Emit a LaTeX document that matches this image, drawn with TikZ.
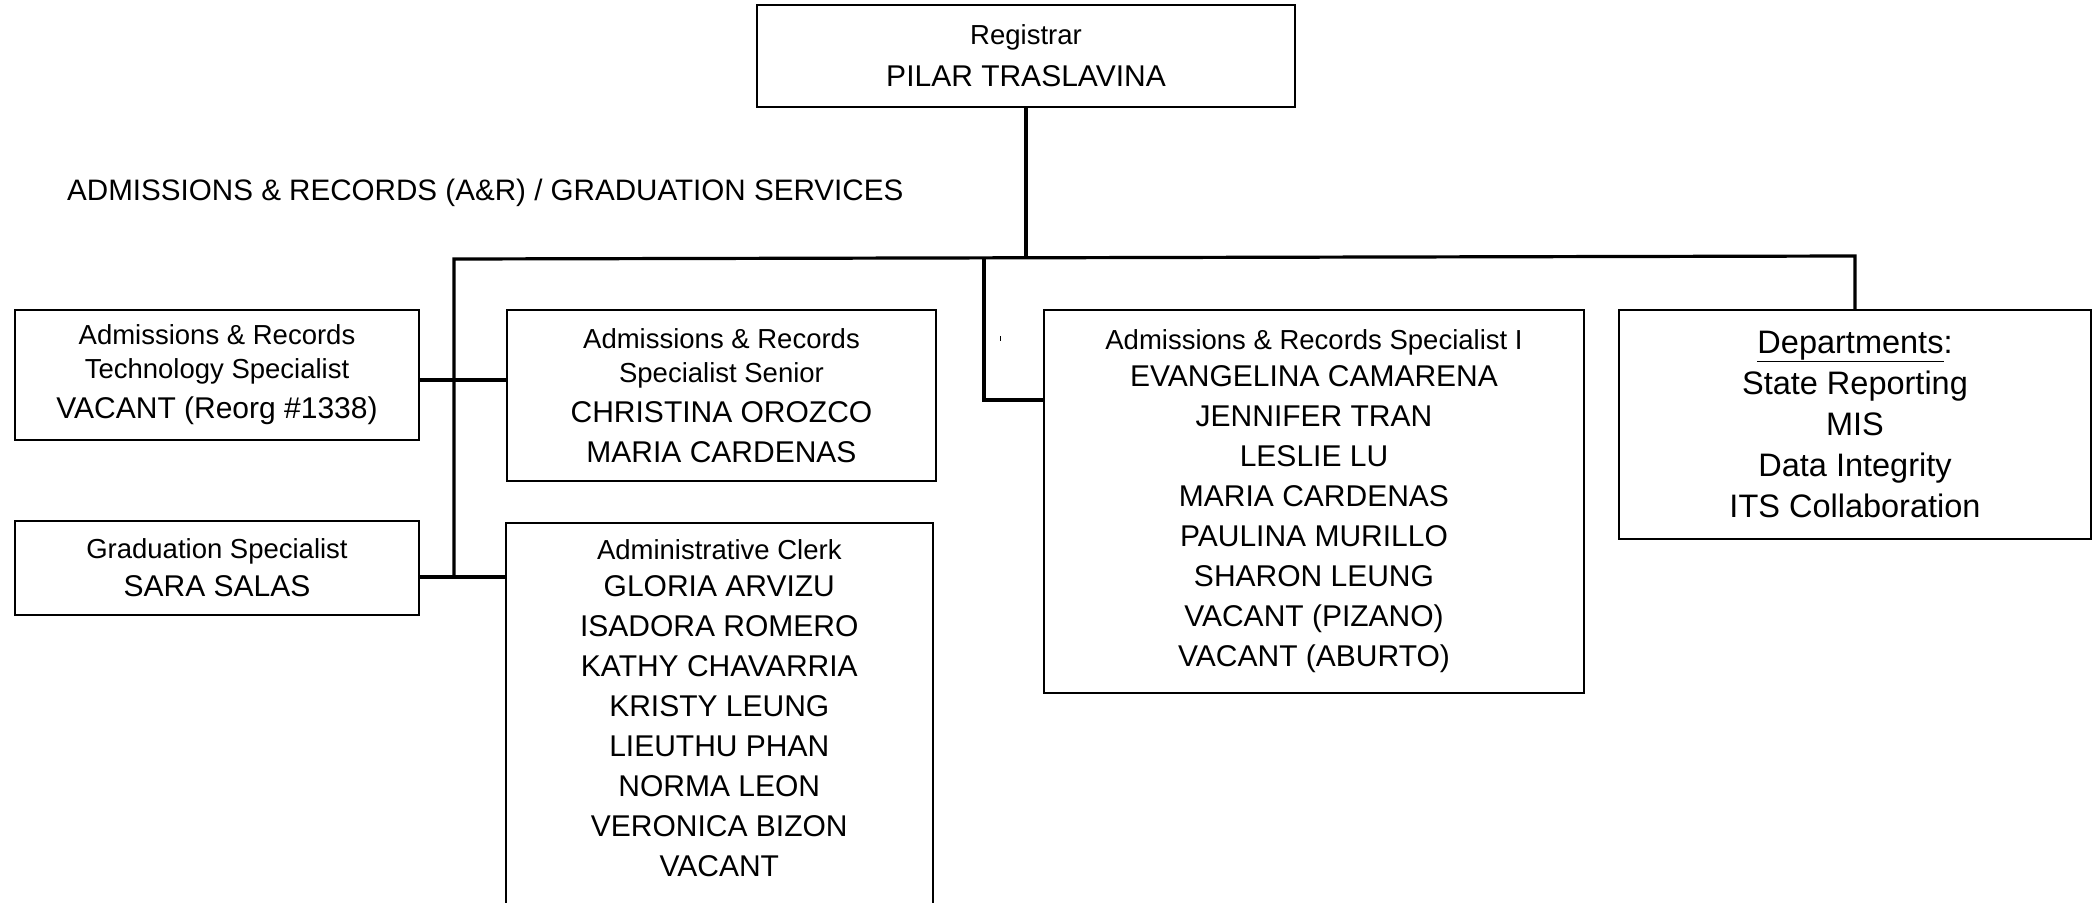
\documentclass[tikz,border=0pt]{standalone}
\usepackage{fontspec}
\setmainfont{Liberation Sans}
\newcommand{\ttl}{\fontsize{27.5}{34}\selectfont}
\newcommand{\nme}{\fontsize{30}{40}\selectfont}
\newcommand{\dpt}{\fontsize{32.5}{41}\selectfont}

\begin{document}
\begin{tikzpicture}[x = 1pt, y = -1pt]
			    \tikzstyle{box}=[draw,line width = 1.6pt,align=center,inner sep=0pt,font=\nme]
			    \tikzstyle{link}=[draw,line width = 3.2pt,-,black!100]
			    \useasboundingbox (0,0) rectangle (2093,902);
			    \node[box,minimum width=538pt,minimum height=102pt] (reg) at (1026,56) {\ttl Registrar\\[2pt] \nme PILAR TRASLAVINA};
			    \node[anchor=west,inner sep=0pt,font=\fontsize{29.6}{36}\selectfont] (title) at (67,193) {ADMISSIONS \& RECORDS (A\&R) / GRADUATION SERVICES};
			    \node[box,minimum width=404pt,minimum height=130pt] (tech) at (217,375) {\ttl Admissions \& Records\\[-6pt] \ttl Technology Specialist\\ \nme VACANT (Reorg \#1338)};
			    \node[box,minimum width=429pt,minimum height=171pt] (senior) at (721.5,395.5) {\ttl Admissions \& Records\\[-6pt] \ttl Specialist Senior\\ \nme CHRISTINA OROZCO\\ \nme MARIA CARDENAS};
			    \node[box,minimum width=404pt,minimum height=94pt] (grad) at (217,568) {\ttl Graduation Specialist\\[-2pt] \nme SARA SALAS};
			    \node[box,anchor=north west,minimum width=427pt,inner ysep=17pt] (clerk) at (505,522) {\ttl Administrative Clerk\\[-3pt] \nme GLORIA ARVIZU\\ \nme ISADORA ROMERO\\ \nme KATHY CHAVARRIA\\ \nme KRISTY LEUNG\\ \nme LIEUTHU PHAN\\ \nme NORMA LEON\\ \nme VERONICA BIZON\\ \nme VACANT\\[60pt] \mbox{}};
			    \node[box,minimum width=540pt,minimum height=383pt] (spec) at (1314,501.5) {\ttl Admissions \& Records Specialist I\\[-3pt] \nme EVANGELINA CAMARENA\\ \nme JENNIFER TRAN\\ \nme LESLIE LU\\ \nme MARIA CARDENAS\\ \nme PAULINA MURILLO\\ \nme SHARON LEUNG\\ \nme VACANT (PIZANO)\\ \nme VACANT (ABURTO)};
			    \node[box,minimum width=472pt,minimum height=229pt,font=\dpt] (dept) at (1855,424.5) {\underline{Departments}:\\ State Reporting\\ MIS\\ Data Integrity\\ ITS Collaboration};
			    \coordinate (bl) at (454,259);
			    \coordinate (bm) at (984,258);
			    \coordinate (br) at (1855,256);
			    \coordinate (jt) at (454,380);
			    \coordinate (jg) at (454,577);
			    \coordinate (js) at (984,400);
			    \draw[link] (reg.south) -- (reg.south |- 0,258);
			    \draw[link] (jg) -- (bl) -- (br) -- (dept.north);
			    \draw[link] (jt -| tech.east) -- (jt -| senior.west);
			    \draw[link] (jg -| grad.east) -- (jg -| clerk.west);
			    \draw[link] (bm) -- (js) -- (js -| spec.west);
			    \draw[line width = 1pt] (1000,336) -- (1000,341);
			\end{tikzpicture}
\end{document}
